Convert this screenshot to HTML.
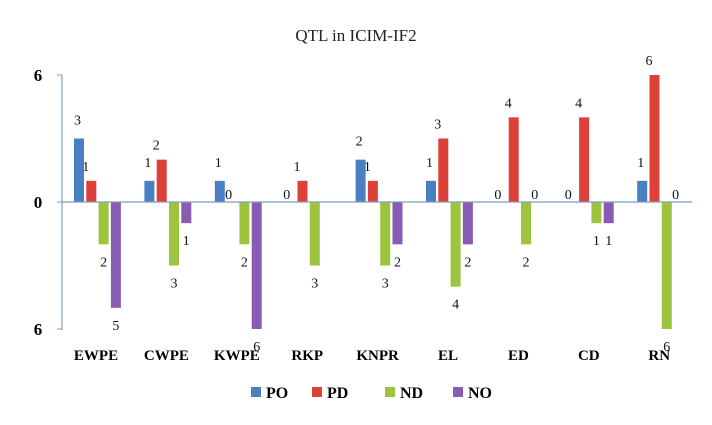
<!DOCTYPE html>
<html><head><meta charset="utf-8"><style>
body{margin:0;background:#fff;}
svg text{font-family:"Liberation Serif",serif;}
</style></head><body>
<svg id="chart" width="712" height="420" viewBox="0 0 712 420">
<rect x="0" y="0" width="712" height="420" fill="#fff"/>
<text x="356" y="41" text-anchor="middle" font-size="17" fill="#222">QTL in ICIM-IF2</text>
<g id="bars"></g>
<line x1="62" y1="75" x2="62" y2="330" stroke="#7f9cc4" stroke-width="1.2"/>
<line x1="62" y1="202" x2="692" y2="202" stroke="#7f9cc4" stroke-width="1.2"/>
<g id="yticks"></g>
<g id="legend"></g>
</svg>
<script>
const categories=["EWPE","CWPE","KWPE","RKP","KNPR","EL","ED","CD","RN"];
const seriesNames=["PO","PD","ND","NO"];
const PO=[3,1,1,0,2,1,0,0,1];
const PD=[1,2,0,1,1,3,4,4,6];
const ND=[-2,-3,-2,-3,-3,-4,-2,-1,-6];
const NO=[-5,-1,-6,0,-2,-2,0,-1,0];
const showLabelNO=[true,true,true,false,true,true,true,true,true];
const yTickValues=[6,0,-6];
const yTickLabels=["6","0","6"];
const colors=["#4a7fc1","#dc4038","#9cc43e","#8a5bb3"];
const NS="http://www.w3.org/2000/svg";
const zeroY=202, unit=127/6, groupX0=74, groupStep=70.4, barW=10, barGap=12.3;
function y(v){return zeroY - v*unit;}
function gx(i){return groupX0 + i*groupStep;}
const svg=document.getElementById('bars');
const series=[PO,PD,ND,NO];
series.forEach((arr,s)=>{
  arr.forEach((v,i)=>{
    const x=gx(i)+s*barGap;
    if(v!==0){
      const r=document.createElementNS(NS,'rect');
      r.setAttribute('x',x);r.setAttribute('width',barW);
      r.setAttribute('y',Math.min(y(v),zeroY));r.setAttribute('height',Math.abs(y(v)-zeroY));
      r.setAttribute('fill',colors[s]);
      
      
      svg.appendChild(r);
    }
    if(s===3 && !showLabelNO[i]) return;
    const t=document.createElementNS(NS,'text');
    t.setAttribute('font-size','14');t.setAttribute('fill','#111');
    let tx,ty;
    if(v>0){tx=x+ (s===0? 0:-3); ty=y(v)-14;}
    else if(v<0){tx=x+5; ty=y(v)+22;}
    else {tx=x+(s===0?-2:-2); ty=zeroY-3;}
    if(v>0&&s===1){tx=x-4;ty=y(v)-10;}
    t.setAttribute('x',tx);t.setAttribute('y',ty);
    t.setAttribute('text-anchor',v<0?'middle':'start');
    t.textContent=Math.abs(v);
    
    
    svg.appendChild(t);
  });
});
categories.forEach((c,i)=>{
  const t=document.createElementNS(NS,'text');
  t.setAttribute('x',gx(i)+22);t.setAttribute('y',360);
  t.setAttribute('text-anchor','middle');t.setAttribute('font-size','15');t.setAttribute('font-weight','bold');
  t.textContent=c;
  
  
  svg.appendChild(t);
});
const yt=document.getElementById('yticks');
yTickValues.forEach((v,i)=>{
  const l=document.createElementNS(NS,'line');
  l.setAttribute('x1',57);l.setAttribute('x2',62);l.setAttribute('y1',y(v));l.setAttribute('y2',y(v));
  l.setAttribute('stroke','#7f9cc4');
  
  
  yt.appendChild(l);
  const t=document.createElementNS(NS,'text');
  t.setAttribute('x',38);t.setAttribute('y',y(v)+6);t.setAttribute('text-anchor','middle');
  t.setAttribute('font-size','17');t.setAttribute('font-weight','bold');
  t.textContent=yTickLabels[i];
  
  
  yt.appendChild(t);
});
const lg=document.getElementById('legend');
const lx=[251,312,385,453];
seriesNames.forEach((n,i)=>{
  const r=document.createElementNS(NS,'rect');
  r.setAttribute('x',lx[i]);r.setAttribute('y',387);r.setAttribute('width',10);r.setAttribute('height',10);
  r.setAttribute('fill',colors[i]);
  
  
  lg.appendChild(r);
  const t=document.createElementNS(NS,'text');
  t.setAttribute('x',lx[i]+15);t.setAttribute('y',398);t.setAttribute('font-size','16');t.setAttribute('font-weight','bold');
  t.textContent=n;
  
  
  lg.appendChild(t);
});
</script>
</body></html>
